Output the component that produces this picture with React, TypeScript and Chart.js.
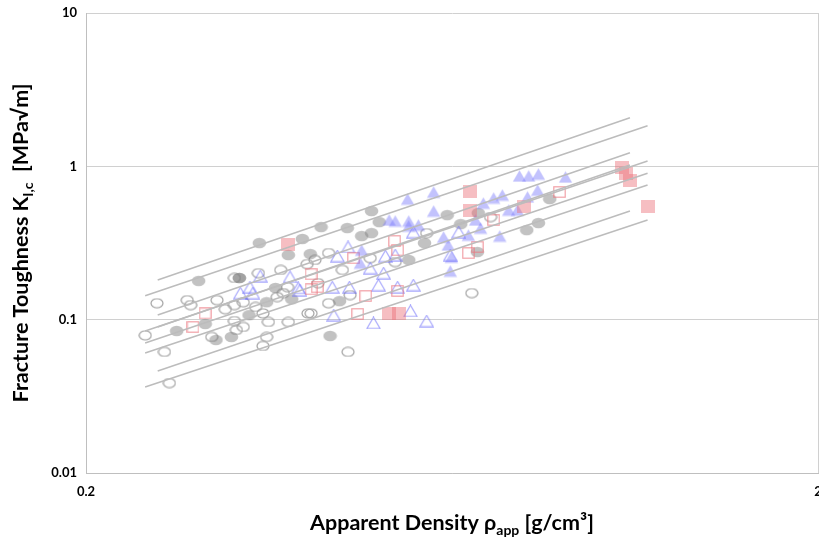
import React, { useEffect, useRef } from "react";
import { Chart, registerables } from "chart.js";

Chart.register(...registerables);

// Axis ticks (log-log)
const xTicks = [0.2, 2];
const yTicks = [0.01, 0.1, 1, 10];

// [apparent density g/cm3, fracture toughness MPa√m]
const grayOpen: [number, number][] = [
  [0.241, 0.079], [0.25, 0.128], [0.256, 0.0616], [0.26, 0.0386], [0.275, 0.134],
  [0.278, 0.1245], [0.297, 0.0771], [0.302, 0.134], [0.31, 0.117], [0.319, 0.098],
  [0.321, 0.0857], [0.328, 0.0896], [0.328, 0.13], [0.341, 0.121], [0.319, 0.187],
  [0.344, 0.201], [0.349, 0.11], [0.355, 0.0966], [0.353, 0.0771], [0.349, 0.0674],
  [0.369, 0.211], [0.378, 0.0966], [0.365, 0.1405], [0.377, 0.163], [0.402, 0.11],
  [0.429, 0.128], [0.459, 0.1447], [0.456, 0.0616], [0.584, 0.367], [0.673, 0.149],
  [0.714, 0.467], [0.401, 0.2306], [0.411, 0.245], [0.429, 0.272], [0.448, 0.211],
  [0.415, 0.173], [0.406, 0.11], [0.319, 0.1245], [0.372, 0.149], [0.489, 0.252],
  [0.529, 0.2376],
];

const grayFilled: [number, number][] = [
  [0.266, 0.0844], [0.285, 0.179], [0.291, 0.0937], [0.301, 0.0737], [0.316, 0.0771],
  [0.324, 0.187], [0.324, 0.187], [0.334, 0.107], [0.345, 0.316], [0.353, 0.13],
  [0.363, 0.161], [0.378, 0.264], [0.382, 0.136], [0.395, 0.336], [0.419, 0.402],
  [0.455, 0.396], [0.476, 0.351], [0.491, 0.367], [0.491, 0.511], [0.503, 0.433],
  [0.444, 0.132], [0.431, 0.0783], [0.552, 0.245], [0.58, 0.316], [0.623, 0.481],
  [0.65, 0.42], [0.687, 0.496], [0.685, 0.276], [0.8, 0.384], [0.83, 0.427],
  [0.86, 0.612], [0.405, 0.268],
];

const pinkFilled: [number, number][] = [
  [0.377, 0.307], [0.519, 0.11], [0.536, 0.11], [0.67, 0.69], [0.67, 0.519],
  [0.792, 0.543], [1.079, 0.99], [1.092, 0.904], [1.106, 0.814], [1.17, 0.543],
];

const pinkOpen: [number, number][] = [
  [0.28, 0.0896], [0.291, 0.11], [0.406, 0.198], [0.406, 0.158], [0.414, 0.163],
  [0.464, 0.252], [0.47, 0.109], [0.482, 0.1426], [0.528, 0.326], [0.533, 0.284],
  [0.533, 0.154], [0.666, 0.272], [0.685, 0.298], [0.721, 0.447], [0.887, 0.68],
];

const blueFilled: [number, number][] = [
  [0.55, 0.612], [0.597, 0.68], [0.597, 0.511], [0.519, 0.447], [0.529, 0.44],
  [0.552, 0.44], [0.552, 0.408], [0.569, 0.414], [0.474, 0.234], [0.476, 0.284],
  [0.625, 0.307], [0.629, 0.2076], [0.666, 0.356], [0.681, 0.447], [0.692, 0.396],
  [0.698, 0.576], [0.721, 0.621], [0.741, 0.65], [0.756, 0.519], [0.777, 0.519],
  [0.735, 0.351], [0.782, 0.865], [0.805, 0.865], [0.83, 0.891], [0.904, 0.852],
  [0.828, 0.7], [0.802, 0.631], [0.616, 0.346], [0.631, 0.256],
];

const blueOpen: [number, number][] = [
  [0.325, 0.149], [0.335, 0.163], [0.338, 0.149], [0.346, 0.1925], [0.38, 0.19],
  [0.39, 0.161], [0.392, 0.156], [0.434, 0.163], [0.458, 0.163], [0.436, 0.107],
  [0.494, 0.0952], [0.502, 0.168], [0.533, 0.163], [0.56, 0.168], [0.555, 0.114],
  [0.584, 0.098], [0.441, 0.26], [0.456, 0.298], [0.489, 0.217], [0.51, 0.201],
  [0.513, 0.26], [0.529, 0.264], [0.629, 0.264], [0.56, 0.373], [0.646, 0.373],
];

// Power-law trend and band lines: [x0, y0, x1, y1]
const trendLines: [number, number, number, number][] = [
  [0.2506, 0.1814, 1.107, 2.076],
  [0.2506, 0.1072, 1.107, 1.227],
  [0.2506, 0.0896, 1.107, 1.02],
  [0.2506, 0.0463, 1.107, 0.5114],
  [0.2409, 0.1433, 1.17, 1.841],
  [0.2409, 0.0843, 1.17, 1.083],
  [0.2409, 0.0705, 1.17, 0.9005],
  [0.2409, 0.0606, 1.17, 0.7555],
  [0.2409, 0.03637, 1.17, 0.4467],
];

const FONT = 'Lato, "Open Sans", "DejaVu Sans", sans-serif';

const xTitle = [
  { t: "Apparent Density \u03C1", sub: false },
  { t: "app", sub: true },
  { t: " [g/cm\u00B3]", sub: false },
];
const yTitle = [
  { t: "Fracture Toughness K", sub: false },
  { t: "I,c", sub: true },
  { t: "  [MPa\u221Am]", sub: false },
];

// The canvas runs a little past the visible frame so the plot reaches the
// right edge and the last x label is cut, as in the printed figure.
const FRAME_W = 819;
const FRAME_H = 538;
const CANVAS_W = 824;

function makeMarker(w: number, h: number, draw: (c: CanvasRenderingContext2D) => void) {
  const c = document.createElement("canvas");
  c.width = w;
  c.height = h;
  const ctx = c.getContext("2d")!;
  draw(ctx);
  return c;
}

const titlesPlugin = {
  id: "axisTitles",
  afterDraw(chart: any) {
    const { ctx, chartArea } = chart;
    const mainFont = `bold 21.5px ${FONT}`;
    const subFont = `bold 14px ${FONT}`;
    const drawRich = (parts: { t: string; sub: boolean }[], cx: number, base: number) => {
      let total = 0;
      const widths = parts.map((p) => {
        ctx.font = p.sub ? subFont : mainFont;
        const w = ctx.measureText(p.t).width;
        total += w;
        return w;
      });
      let x = cx - total / 2;
      parts.forEach((p, i) => {
        ctx.font = p.sub ? subFont : mainFont;
        ctx.fillText(p.t, x, base + (p.sub ? 5 : 0));
        x += widths[i];
      });
    };
    ctx.save();
    ctx.fillStyle = "#000";
    ctx.textBaseline = "alphabetic";
    ctx.textAlign = "left";
    drawRich(xTitle, (chartArea.left + chartArea.right) / 2, 530);
    ctx.translate(28, (chartArea.top + chartArea.bottom) / 2);
    ctx.rotate(-Math.PI / 2);
    drawRich(yTitle, 0, 0);
    ctx.restore();
  },
};

export default function App() {
  const ref = useRef<HTMLCanvasElement | null>(null);

  useEffect(() => {
    if (!ref.current) return;

    const openCircle = makeMarker(14, 11, (c) => {
      c.beginPath();
      c.ellipse(7, 5.5, 6, 4.5, 0, 0, Math.PI * 2);
      c.strokeStyle = "#a2a2a2";
      c.lineWidth = 1.2;
      c.stroke();
    });
    const filledCircle = makeMarker(15, 12, (c) => {
      c.beginPath();
      c.ellipse(7.5, 6, 6.8, 5.3, 0, 0, Math.PI * 2);
      c.fillStyle = "rgba(128,128,128,0.48)";
      c.fill();
    });
    const filledSquare = makeMarker(14, 13, (c) => {
      c.fillStyle = "rgba(236,110,120,0.45)";
      c.fillRect(0, 0, 14, 13);
    });
    const openSquare = makeMarker(13, 12, (c) => {
      c.strokeStyle = "rgba(236,120,128,0.7)";
      c.lineWidth = 1.2;
      c.strokeRect(0.8, 0.8, 11.4, 10.4);
    });
    const triPath = (c: CanvasRenderingContext2D) => {
      c.beginPath();
      c.moveTo(7.5, 0.8);
      c.lineTo(14.2, 12.2);
      c.lineTo(0.8, 12.2);
      c.closePath();
    };
    const filledTri = makeMarker(15, 13, (c) => {
      triPath(c);
      c.fillStyle = "rgba(120,120,250,0.45)";
      c.fill();
    });
    const openTri = makeMarker(15, 13, (c) => {
      triPath(c);
      c.strokeStyle = "rgba(110,110,250,0.6)";
      c.lineWidth = 1.2;
      c.stroke();
    });

    const pts = (arr: [number, number][]) => arr.map(([x, y]) => ({ x, y }));
    const pointSet = (data: [number, number][], style: HTMLCanvasElement, order: number) => ({
      type: "scatter" as const,
      data: pts(data),
      pointStyle: style,
      pointRadius: 5,
      order,
    });

    const lineSets = trendLines.map(([x0, y0, x1, y1]) => ({
      type: "line" as const,
      data: [
        { x: x0, y: y0 },
        { x: x1, y: y1 },
      ],
      borderColor: "#bcbcbc",
      borderWidth: 1.5,
      pointRadius: 0,
      fill: false,
      order: 0,
    }));

    const chart = new Chart(ref.current, {
      type: "scatter",
      data: {
        datasets: [
          ...lineSets,
          pointSet(pinkFilled, filledSquare, 1),
          pointSet(blueFilled, filledTri, 2),
          pointSet(pinkOpen, openSquare, 3),
          pointSet(blueOpen, openTri, 4),
          pointSet(grayFilled, filledCircle, 5),
          pointSet(grayOpen, openCircle, 6),
        ] as any,
      },
      options: {
        responsive: false,
        animation: false,
        layout: { padding: { top: 13, right: 2, left: 0, bottom: 0 } },
        plugins: {
          legend: { display: false },
          tooltip: { enabled: false },
        },
        scales: {
          x: {
            type: "logarithmic",
            min: 0.2,
            max: 2,
            afterBuildTicks: (s: any) => {
              s.ticks = xTicks.map((v) => ({ value: v }));
            },
            afterFit: (s: any) => {
              s.height = 65;
              s.paddingLeft = 0;
              s.paddingRight = 0;
            },
            grid: { color: "#d0d0d0", drawTicks: false, lineWidth: 1 },
            border: { color: "#bfbfbf" },
            ticks: {
              autoSkip: false,
              maxRotation: 0,
              padding: 11,
              color: "#000",
              font: { family: FONT, size: 13, weight: "bold" },
              callback: (v: any) => String(+v),
            },
          },
          y: {
            type: "logarithmic",
            min: 0.01,
            max: 10,
            afterBuildTicks: (s: any) => {
              s.ticks = yTicks.map((v) => ({ value: v }));
            },
            afterFit: (s: any) => {
              s.width = 86;
              s.paddingTop = 0;
              s.paddingBottom = 0;
            },
            grid: { color: "#d0d0d0", drawTicks: false, lineWidth: 1 },
            border: { color: "#bfbfbf" },
            ticks: {
              autoSkip: false,
              padding: 9,
              color: "#000",
              font: { family: FONT, size: 13, weight: "bold" },
              callback: (v: any) => String(+v),
            },
          },
        },
      },
      plugins: [titlesPlugin],
    });

    return () => chart.destroy();
  }, []);

  return (
    <div
      style={{
        position: "absolute",
        left: 0,
        top: 0,
        width: FRAME_W,
        height: FRAME_H,
        overflow: "hidden",
        background: "#fff",
      }}
    >
      <canvas
        ref={ref}
        width={CANVAS_W}
        height={FRAME_H}
        style={{ display: "block", width: CANVAS_W, height: FRAME_H }}
      />
    </div>
  );
}
